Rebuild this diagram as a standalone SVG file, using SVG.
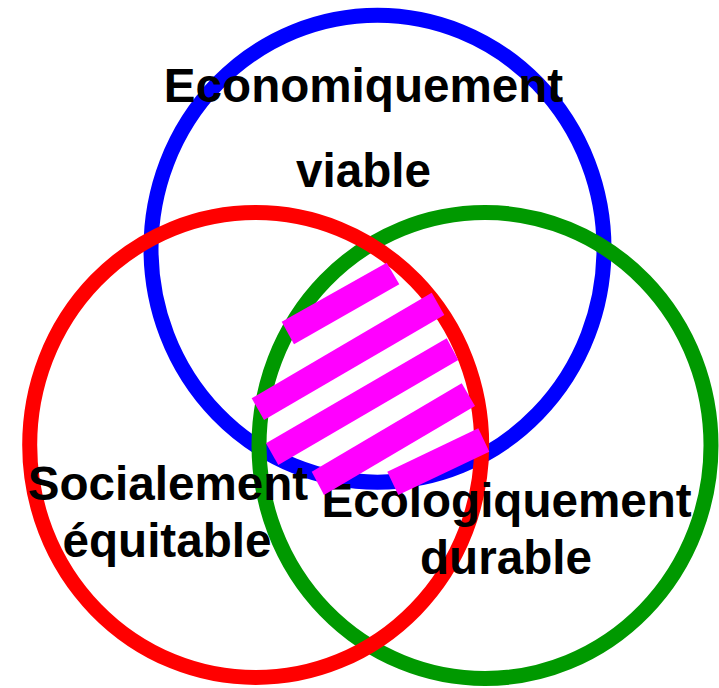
<svg xmlns="http://www.w3.org/2000/svg" width="719" height="688" viewBox="0 0 719 688">
<style>
.ring{fill:none;stroke-width:15}
.lbl{font-family:"Liberation Sans",Arial,sans-serif;font-weight:bold;font-size:47.6px;fill:#000;text-anchor:middle}
.stripe{fill:#FF00FF}
</style>
<rect width="719" height="688" fill="#fff"/>
<g id="circles">
<ellipse id="economique" class="ring" cx="377.5" cy="248.7" rx="226.5" ry="233.5" stroke="#0000FF"/>
<ellipse id="ecologique" class="ring" cx="485" cy="445.5" rx="226" ry="233" stroke="#009900"/>
<ellipse id="social" class="ring" cx="255.7" cy="445" rx="226" ry="232.5" stroke="#FF0000"/>
</g>
<g id="labels">
<text class="lbl" x="363.5" y="101.5">Economiquement</text>
<text class="lbl" x="363.5" y="187">viable</text>
<text class="lbl" x="168" y="500">Socialement</text>
<text class="lbl" x="167" y="557">équitable</text>
<text class="lbl" x="506.6" y="517">Ecologiquement</text>
<text class="lbl" x="506" y="574">durable</text>
</g>
<g id="intersection">
<polygon class="stripe" points="281.7,321.7 386.7,262.7 399.3,284.3 294,344.3"/>
<polygon class="stripe" points="251.7,398.3 431.7,292.7 444.3,315 264,420"/>
<polygon class="stripe" points="266,443.3 446.7,338.3 458.3,360 278.3,465"/>
<polygon class="stripe" points="311.7,471.7 461.7,383.3 475,406 324,495"/>
<polygon class="stripe" points="387.3,471.7 478.3,428.3 489.3,451.7 398.3,495"/>
</g>
</svg>
